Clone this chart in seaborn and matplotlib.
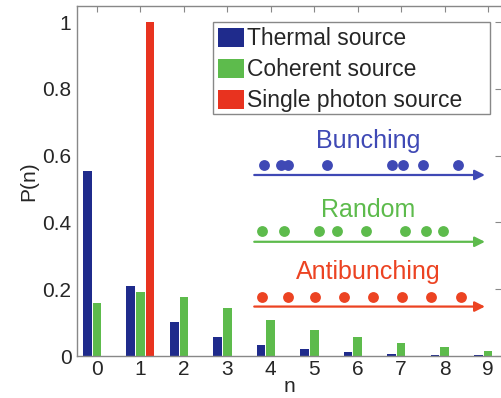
import matplotlib
matplotlib.use("Agg")
import matplotlib.pyplot as plt
from matplotlib.patches import Rectangle
import seaborn as sns
import pandas as pd
import numpy as np

# ---- data ----
n_vals = [0, 1, 2, 3, 4, 5, 6, 7, 8, 9]
thermal = [0.555, 0.21, 0.103, 0.056, 0.033, 0.020, 0.011, 0.007, 0.004, 0.002]
coherent = [0.160, 0.193, 0.177, 0.143, 0.108, 0.078, 0.056, 0.038, 0.026, 0.016]
single = [0, 1.0, 0, 0, 0, 0, 0, 0, 0, 0]
series_names = ["Thermal source", "Coherent source", "Single photon source"]
y_ticks = [0, 0.2, 0.4, 0.6, 0.8, 1]
y_tick_labels = ["0", "0.2", "0.4", "0.6", "0.8", "1"]

# decorative photon-stream illustrations (data coords)
bunch_x = [3.84, 4.23, 4.40, 5.30, 6.78, 7.05, 7.50, 8.32]
bunch_y = 0.572
random_x = [3.79, 4.31, 5.12, 5.52, 6.19, 7.09, 7.57, 7.96]
random_y = 0.373
anti_x = [3.79, 4.40, 5.02, 5.69, 6.36, 7.02, 7.68, 8.37]
anti_y = 0.178

# ---- styles ----
bar_colors = ["#1f2b8c", "#5dbb4c", "#e8331f"]
blue_a, green_a, red_a = "#3f49b5", "#5dbb4c", "#ec4322"

sns.set_style("white")
plt.rcParams["font.family"] = ["Liberation Sans", "DejaVu Sans"]

df = pd.DataFrame({
    "n": n_vals * 3,
    "P": thermal + coherent + single,
    "source": sum([[s] * len(n_vals) for s in series_names], []),
})

W, H = 501, 398
fig = plt.figure(figsize=(W / 100, H / 100), dpi=100)
ax = fig.add_axes([77 / W, 1 - 356 / H, 1 - 77 / W, 350 / H])

sns.barplot(data=df, x="n", y="P", hue="source", hue_order=series_names,
            palette=bar_colors, width=0.667, gap=0.1, saturation=1,
            edgecolor="none", linewidth=0, ax=ax, legend=True)

ax.set_xlim(-0.46, 9.30)
ax.set_ylim(0, 1.048)
ax.set_yticks(y_ticks)
ax.set_yticklabels(y_tick_labels)
ax.set_xlabel("n", fontsize=15, labelpad=-1.5)
ax.set_ylabel("P(n)", fontsize=15, labelpad=3)
ax.tick_params(axis="both", direction="in", length=4, width=0.8, color="#888888",
               labelsize=15, top=True, right=True, pad=4)
ax.tick_params(axis="x", pad=3)
for s in ["left", "top", "bottom"]:
    ax.spines[s].set_color("#888888")
    ax.spines[s].set_linewidth(1.0)
ax.spines["right"].set_visible(False)

leg = ax.legend(loc="upper left", bbox_to_anchor=(215 / W, 1 - 24 / H),
                bbox_transform=fig.transFigure, borderaxespad=0, fontsize=16.5,
                frameon=False, handlelength=1.1, handleheight=0.95,
                handletextpad=0.15, labelspacing=0.35, borderpad=0.15, title=None)
leg.set_zorder(6)
# legend frame (Matlab-style, with extra right padding)
frame = Rectangle((213 / W, 1 - 114 / H), (490 - 213) / W, (114 - 22) / H,
                  transform=fig.transFigure, facecolor="white",
                  edgecolor="#888888", linewidth=1.0, zorder=5, clip_on=False)
ax.add_artist(frame)

# annotations
def stream(xs, y, ay, col, label, ty):
    ax.plot(xs, [y] * len(xs), "o", color=col, markersize=7.8, markeredgewidth=0)
    ax.annotate("", xy=(8.93, ay), xytext=(3.62, ay),
                arrowprops=dict(arrowstyle="-|>,head_length=0.6,head_width=0.3",
                                color=col, lw=1.6, shrinkA=0, shrinkB=0))
    ax.text(6.25, ty, label, color=col, fontsize=18, ha="center", va="center")

stream(bunch_x, bunch_y, 0.542, blue_a, "Bunching", 0.645)
stream(random_x, random_y, 0.342, green_a, "Random", 0.437)
stream(anti_x, anti_y, 0.148, red_a, "Antibunching", 0.251)

fig.savefig("out.png", dpi=100)
